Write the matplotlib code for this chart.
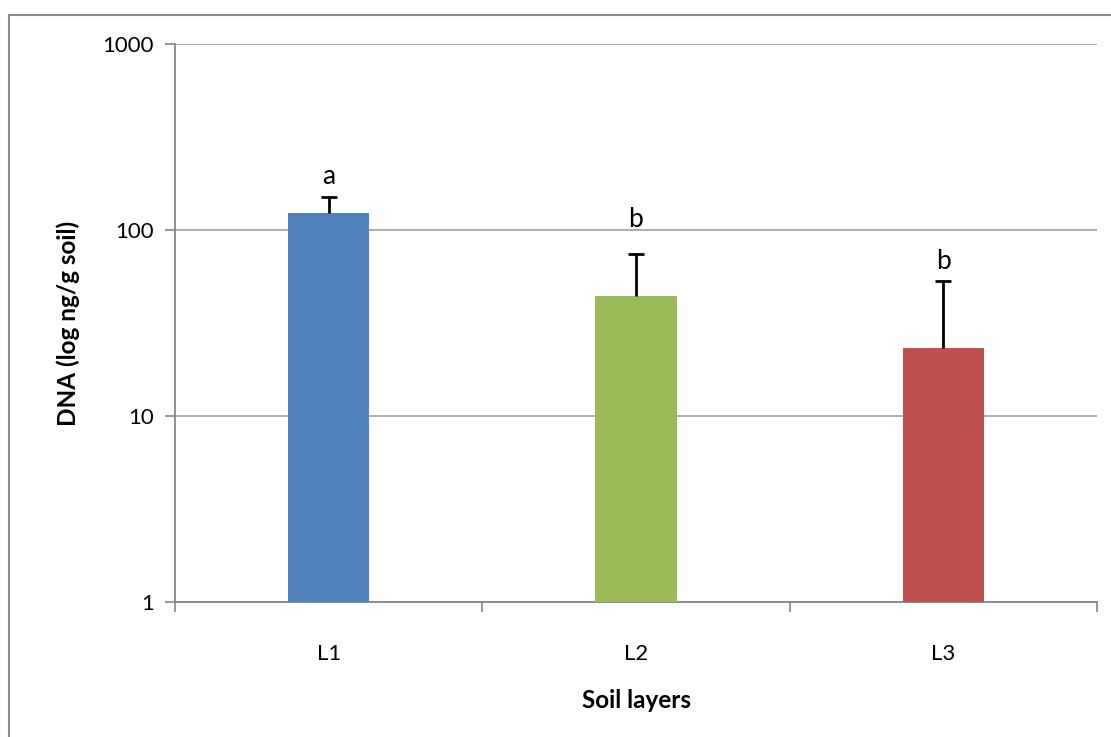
import matplotlib.pyplot as plt
from matplotlib.patches import Rectangle

layers = ["L1", "L2", "L3"]
dna = [123, 44, 23.3]
err_up = [27, 30, 30]
letters = ["a", "b", "b"]
letter_y = [177, 104, 61.7]
colors = ["#4F81BD", "#9BBB59", "#C0504D"]

plt.rcParams["font.family"] = ["Lato", "DejaVu Sans"]

fig = plt.figure(figsize=(11.11, 7.37), dpi=100)
ax = fig.add_axes([175 / 1111, 1 - 602 / 737, 922 / 1111, 558 / 737])

x = list(range(len(layers)))
ax.bar(x, dna, width=0.265, color=colors, zorder=3)
eb = ax.errorbar(x, dna, yerr=[[0] * 3, err_up], fmt="none", ecolor="black",
                 elinewidth=2, capsize=6, capthick=2, zorder=4)
# hide the lower caps, they sit on the bar tops
eb[1][0].set_visible(False)
for xi, lab, ly in zip(x, letters, letter_y):
    ax.text(xi, ly, lab, ha="center", va="baseline", fontsize=19)

ax.set_yscale("log")
ax.set_ylim(1, 1000)
ax.set_xlim(-0.5, 2.5)
ax.set_yticks([1, 10, 100, 1000])
ax.set_yticklabels(["1", "10", "100", "1000"])
ax.minorticks_off()
ax.yaxis.grid(True, color="#A6A6A6", linewidth=1.3, zorder=0)

ax.set_xticks(x)
ax.set_xticklabels(layers)
ax.set_xticks([-0.5, 0.5, 1.5, 2.5], minor=True)
ax.tick_params(axis="x", which="major", length=0, pad=30, labelsize=16)
ax.tick_params(axis="x", which="minor", length=7, color="#868686", width=1.2)
ax.tick_params(axis="y", length=7, color="#868686", width=1.2, labelsize=16, pad=8)

for side in ["top", "right"]:
    ax.spines[side].set_visible(False)
for side in ["left", "bottom"]:
    ax.spines[side].set_color("#868686")
    ax.spines[side].set_linewidth(1.3)

ax.set_xlabel("Soil layers", fontsize=17.5, fontweight="bold", labelpad=18)
ax.set_ylabel("DNA (log ng/g soil)", fontsize=17.5, fontweight="bold", labelpad=16)

fig.patches.append(Rectangle((9 / 1111, -0.05), 1.1, 1 - 15 / 737 + 0.05,
                             transform=fig.transFigure, fill=False,
                             edgecolor="#8C8C8C", linewidth=1.5))

fig.savefig("out.png", dpi=100)
